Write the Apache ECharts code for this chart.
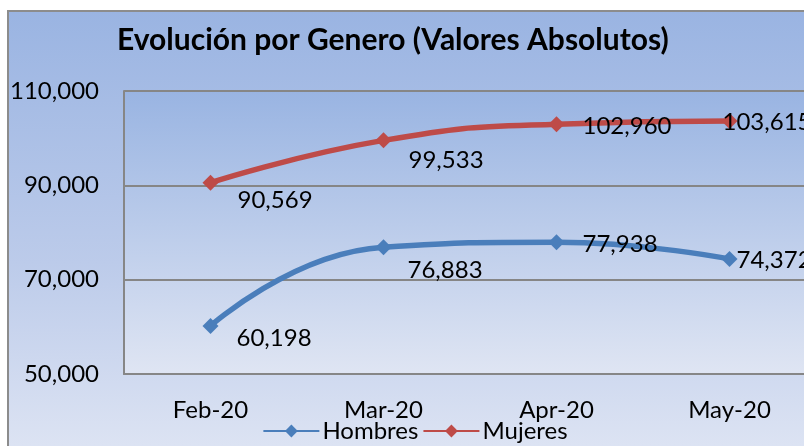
<!DOCTYPE html>
<html>
<head>
<meta charset="utf-8">
<script src="https://cdn.jsdelivr.net/npm/echarts@6/dist/echarts.min.js"></script>
<style>
  html, body { margin: 0; padding: 0; background: #fff; overflow: hidden; width: 804px; height: 446px; }
  #frame {
    position: absolute; left: 7px; top: 10px; width: 820px; height: 460px;
    border: 2px solid #8c8c8c; box-sizing: border-box;
    background: linear-gradient(to bottom, #9ab4e2 0%, #bccbea 55%, #e0e6f4 100%);
  }
  #chart { position: absolute; left: 0; top: 0; width: 830px; height: 446px; }
</style>
</head>
<body>
<div id="frame"></div>
<div id="chart"></div>
<script>
var categories = ['Feb-20', 'Mar-20', 'Apr-20', 'May-20']
var hombres = [60198, 76883, 77938, 74372]
var mujeres = [90569, 99533, 102960, 103615]
var yTicks = [50000, 70000, 90000, 110000]

// label nudges, like the hand-placed labels of the original
var hombresShift = [[18, 12], [16, 23], [18, 2], [-1, 1]]
var mujeresShift = [[19, 18], [17, 20], [18, 2], [-15, 1]]

var fmt = function (v) { return Number(v).toLocaleString('en-US') }
var font = 'Lato'

function buildSeries (name, values, shifts, color) {
  return {
    name: name,
    type: 'line',
    smooth: 0.5,
    symbol: 'diamond',
    symbolSize: 16,
    lineStyle: { width: 5.5, color: color },
    itemStyle: { color: color },
    data: values.map(function (v, i) {
      return {
        value: v,
        label: { offset: shifts[i] }
      }
    }),
    label: {
      show: true,
      position: 'right',
      distance: 0,
      color: '#000',
      fontFamily: font,
      fontSize: 24,
      formatter: function (p) { return fmt(p.value) }
    }
  }
}

var chart = echarts.init(document.getElementById('chart'))
chart.setOption({
  animation: false,
  backgroundColor: 'transparent',
  title: {
    text: 'Evolución por Genero (Valores Absolutos)',
    left: 112,
    top: 20,
    textStyle: { fontFamily: font, fontWeight: 'bold', fontSize: 30, color: '#000' }
  },
  legend: {
    bottom: -2,
    left: 'center',
    itemWidth: 56,
    itemHeight: 16,
    itemGap: 4,
    textStyle: { fontFamily: font, fontSize: 24, color: '#000', padding: [0, 0, 0, -2] },
    data: ['Hombres', 'Mujeres']
  },
  grid: {
    left: 124,
    top: 91,
    bottom: 72,
    right: 14,
    show: true,
    borderWidth: 0,
    backgroundColor: new echarts.graphic.LinearGradient(0, 0, 0, 1, [
      { offset: 0, color: '#99b4e2' },
      { offset: 1, color: '#dfe5f3' }
    ])
  },
  xAxis: {
    type: 'category',
    data: categories,
    axisTick: { show: false },
    axisLine: { lineStyle: { color: '#868686', width: 2 } },
    axisLabel: { margin: 24, color: '#000', fontFamily: font, fontSize: 24 }
  },
  yAxis: {
    type: 'value',
    min: yTicks[0],
    max: yTicks[yTicks.length - 1],
    interval: yTicks[1] - yTicks[0],
    axisTick: { show: false },
    axisLine: { show: true, lineStyle: { color: '#868686', width: 2 } },
    splitLine: { lineStyle: { color: '#868686', width: 2 } },
    axisLabel: { margin: 25, color: '#000', fontFamily: font, fontSize: 24, formatter: fmt }
  },
  series: [
    buildSeries('Hombres', hombres, hombresShift, '#4a7ebb'),
    buildSeries('Mujeres', mujeres, mujeresShift, '#be4b48')
  ]
})
</script>
</body>
</html>
